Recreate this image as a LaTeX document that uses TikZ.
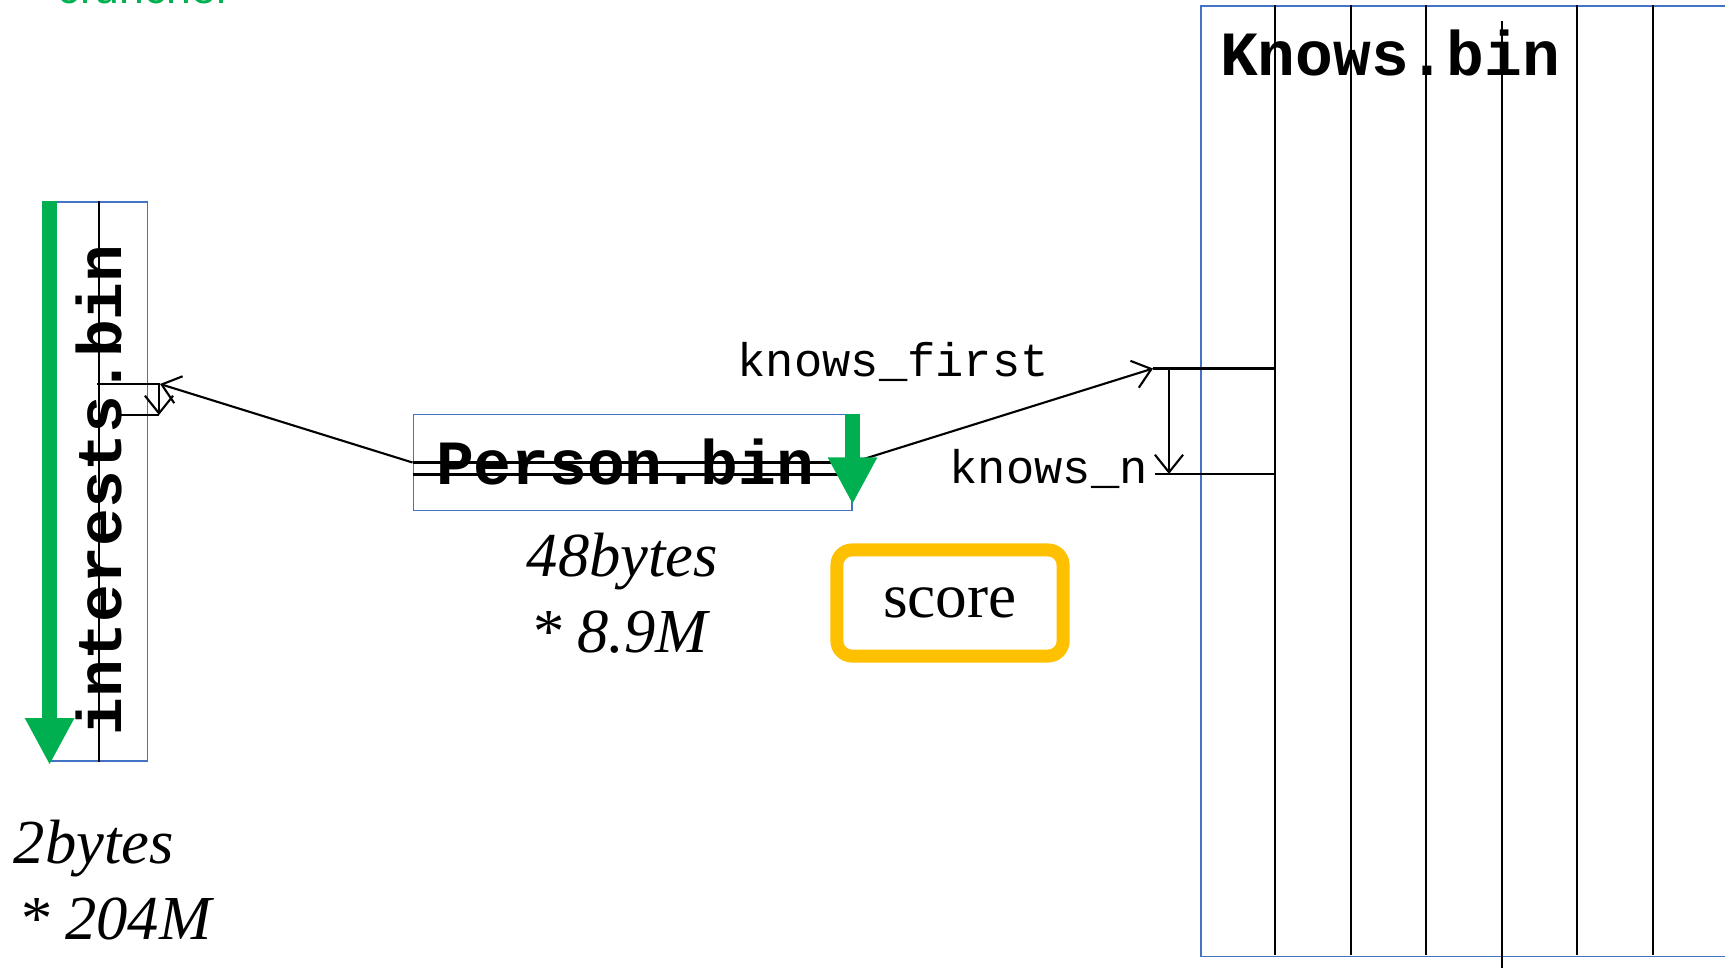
\documentclass[tikz,border=0pt]{standalone}
\usepackage{fontspec}
\setmainfont{Liberation Serif}
\setsansfont{Liberation Sans}
\setmonofont{Liberation Mono}
\usetikzlibrary{arrows.meta,calc}
\definecolor{boxblue}{RGB}{68,114,196}
\definecolor{scangreen}{RGB}{0,176,80}
\definecolor{scoreyellow}{RGB}{255,192,0}

\begin{document}
\begin{tikzpicture}[x=0.01cm, y=-0.01cm,
    binbox/.style={draw=boxblue, line width=0.5pt, inner sep=0pt},
    binname/.style={font=\fontsize{17.9}{20}\selectfont\ttfamily\bfseries, inner sep=0pt},
    fieldname/.style={font=\fontsize{13.4}{16}\selectfont\ttfamily, inner sep=0pt, anchor=base west},
    sizenote/.style={font=\fontsize{17.8}{21}\selectfont\itshape, inner sep=0pt, anchor=base west},
    rec/.style={line width=0.6pt},
    ptr/.style={line width=0.6pt, -{Straight Barb[length=5pt,width=8pt]}},
    scan/.style={draw=scangreen, line width=0.15cm, -{Triangle[width=0.46cm,length=0.47cm]}}]
    \useasboundingbox (0,0) rectangle (1725,970);

    % Title, cut off at the top
    \node[font=\fontsize{12.7}{15}\selectfont\sffamily, text=scangreen, anchor=base west, inner sep=0pt] (title) at (57,4) {cruncher};

    % interests.bin
    \node[binbox, minimum width=0.97cm, minimum height=5.59cm] (interests) at (99,481.5) {};
    \node[binname, rotate=90] (interestsname) at (99,490) {interests.bin};
    \draw[rec] (interests.north) -- (interests.south);
    \coordinate (intfirst) at (160,384);
    \coordinate (intlast) at (159,415);
    \draw[rec] (97,384) -- (intfirst);
    \draw[rec] (119,415) -- (intlast);
    \draw[ptr] (159,384) -- (intlast);
    \node[sizenote] (intsize) at (13,863) {2bytes};
    \node[sizenote] (intcount) at (17.6,939.5) {* 204M};

    % Person.bin
    \node[binbox, minimum width=4.38cm, minimum height=0.96cm] (person) at (632.5,462.5) {};
    \node[binname] (personname) at (625,462) {Person.bin};
    \draw[rec] (person.west) -- (person.east);
    \draw[rec] ($(person.west)+(0,12)$) -- ($(person.east)+(0,12)$);
    \node[sizenote] (personsize) at (526,576) {48bytes};
    \node[sizenote] (personcount) at (530,652) {* 8.9M};

    % Knows.bin
    \node[binbox, minimum width=5.4cm, minimum height=9.5cm, anchor=north west] (knows) at (1200,5) {};
    \node[binname] (knowsname) at (1390,53) {Knows.bin};
    \foreach \i in {0,1,2,4,5}
        \draw[rec] (1275+75.6*\i,5) -- (1275+75.6*\i,955);
    \draw[rec] (1502,21) -- (1502,968);

    % Fields knows_first and knows_n
    \coordinate (kfirst) at (1153,368.5);
    \coordinate (kn) at (1155,474);
    \draw[rec] (kfirst) -- (1275,368.5);
    \draw[rec] (kn) -- (1275,474);
    \draw[ptr] (1169,368.5) -- (1169,474);
    \node[fieldname] (firstname) at (737,376) {knows\_first};
    \node[fieldname] (nname) at (949,483) {knows\_n};

    % Pointers
    \draw[ptr] (person.west) -- (intfirst);
    \draw[ptr] (person.east) -- (kfirst);

    % Scans
    \draw[scan] (interests.north west) -- ($(interests.south west)+(0,3)$);
    \draw[scan] (person.north east) -- ($(person.south east)+(0,-7)$);

    % score
    \node[draw=scoreyellow, line width=3.7pt, rounded corners=0.15cm, minimum width=2.26cm, minimum height=1.06cm, font=\fontsize{18}{21}\selectfont] (score) at (950,603) {score};
\end{tikzpicture}
\end{document}
